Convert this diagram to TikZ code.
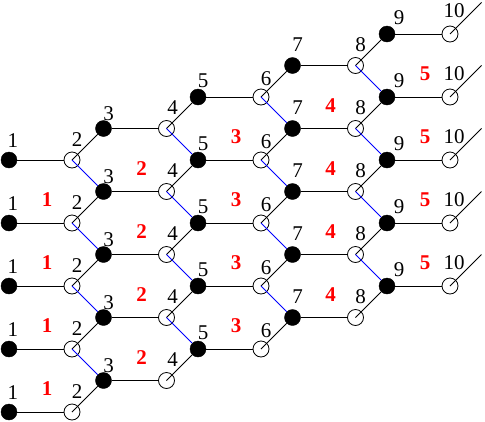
\documentclass[tikz,border=0pt]{standalone}
\usepackage{fontspec}
\setmainfont{Liberation Serif}
\begin{document}
\begin{tikzpicture}[x=1pt,y=-1pt,
  full/.style={circle,fill=black,draw=black,inner sep=0pt,minimum size=16pt},
  hollow/.style={circle,draw=black,inner sep=0pt,minimum size=16pt,line width=0.8pt},
  edge/.style={line width=0.8pt},
  cross/.style={blue,line width=0.8pt},
  num/.style={font=\fontsize{21}{21}\selectfont, inner sep=0pt},
  cell/.style={font=\fontsize{21}{21}\selectfont\bfseries, text=red, inner sep=0pt}]
\useasboundingbox (0,0) rectangle (485,421);
\foreach \r in {0,...,4}{
  \foreach \k in {0,...,4}{
    \pgfmathsetmacro{\xo}{9+94.5*\k}
    \pgfmathsetmacro{\xe}{72+94.5*\k}
    \pgfmathsetmacro{\yy}{160+63*\r-31.5*\k}
    \pgfmathtruncatemacro{\co}{2*\k+1}
    \pgfmathtruncatemacro{\ce}{2*\k+2}
    \node[full] (n-\r-\co) at (\xo,\yy) {};
    \node[hollow] (n-\r-\ce) at (\xe,\yy) {};
  }
}
% horizontal edges
\foreach \r in {0,...,4}{
  \foreach \k in {0,...,4}{
    \pgfmathtruncatemacro{\co}{2*\k+1}
    \pgfmathtruncatemacro{\ce}{2*\k+2}
    \draw[edge] (n-\r-\co) -- (n-\r-\ce);
  }
}
% diagonal edges within a rail
\foreach \r in {0,...,4}{
  \foreach \k in {0,...,3}{
    \pgfmathtruncatemacro{\ce}{2*\k+2}
    \pgfmathtruncatemacro{\cn}{2*\k+3}
    \draw[edge] (n-\r-\ce.center) -- (n-\r-\cn);
  }
}
% blue cross edges
\foreach \r in {0,...,3}{
  \pgfmathtruncatemacro{\rn}{\r+1}
  \foreach \k in {0,...,3}{
    \pgfmathtruncatemacro{\ce}{2*\k+2}
    \pgfmathtruncatemacro{\cn}{2*\k+3}
    \draw[cross] (n-\r-\ce.center) -- (n-\rn-\cn);
  }
}
% free ends
\foreach \r in {0,...,4}{
  \coordinate (e-\r) at ([shift={(31.5,-31.5)}]n-\r-10.center);
  \draw[edge] (n-\r-10.center) -- (e-\r);
}
% number labels
\foreach \c/\dx/\dy in {1/4/-19, 2/5/-20, 3/5/-15, 4/6/-21, 5/5/-16, 6/5/-18, 7/5/-21, 8/5/-21, 9/12/-16, 10/4/-23}{
  \foreach \r in {0,...,4}{
    \path (n-\r-\c) ++(\dx,\dy) node[num] (l-\r-\c) {\c};
  }
}
% cell labels
\foreach \k in {0,...,4}{
  \pgfmathtruncatemacro{\lab}{\k+1}
  \foreach \j in {0,...,3}{
    \pgfmathsetmacro{\cx}{47+94.5*\k}
    \pgfmathsetmacro{\cy}{200-31.5*\k+63*\j}
    \node[cell] (c-\k-\j) at (\cx,\cy) {\lab};
  }
}
\end{tikzpicture}
\end{document}
